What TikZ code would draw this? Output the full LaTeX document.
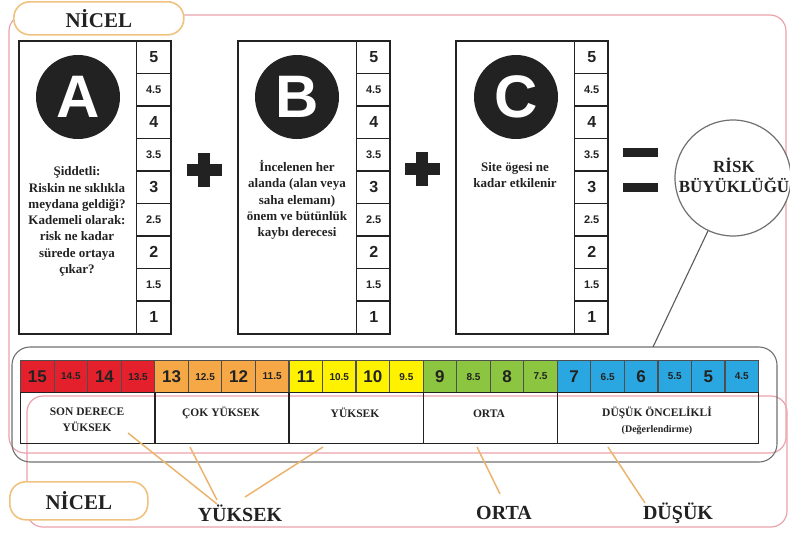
\documentclass[tikz,border=0pt]{standalone}
\usepackage{fontspec}
\setmainfont{Liberation Serif}
\newfontfamily\numfont{Liberation Sans}
\usetikzlibrary{calc}
\definecolor{pinkline}{HTML}{E9A3AB}
\definecolor{nicelor}{HTML}{EFC27F}
\definecolor{tanline}{HTML}{EBB46E}
\definecolor{cred}{HTML}{E3202B}
\definecolor{corange}{HTML}{F5A845}
\definecolor{cyellow}{HTML}{FFF200}
\definecolor{cgreen}{HTML}{8CC540}
\definecolor{cblue}{HTML}{2AA7E0}
\definecolor{inkc}{HTML}{222222}
\definecolor{grayline}{HTML}{707070}
\begin{document}
\begin{tikzpicture}[x=1pt,y=-1pt,
  pinkbox/.style={draw=pinkline, line width=1.2pt, rounded corners=16pt},
  nicelbox/.style={draw=nicelor, line width=1.6pt, fill=white, rounded corners=16pt, inner sep=0pt, anchor=north west, font=\bfseries\fontsize{21}{21}\selectfont, text=inkc},
  scorebox/.style={draw=inkc, line width=1.6pt, inner sep=0pt, anchor=north west, minimum width=152pt, minimum height=293pt},
  cellbox/.style={draw=inkc, line width=1.4pt, inner sep=0pt, anchor=north west, minimum width=34pt, minimum height=32.56pt, text=inkc},
  lettercirc/.style={circle, fill=inkc, minimum size=84pt, inner sep=0pt, text=white, font=\numfont\bfseries\fontsize{60}{60}\selectfont},
  desc/.style={align=center, text=inkc, font=\bfseries\fontsize{13}{16.3}\selectfont},
  signbar/.style={fill=inkc},
  barcell/.style={draw=inkc!80, line width=1.2pt, inner sep=0pt, anchor=north west, minimum width=33.545pt, minimum height=32pt, text=inkc},
  labelcell/.style={draw=inkc, line width=1.4pt, inner sep=0pt, anchor=north west, minimum height=51pt},
  labeltext/.style={align=center, text=inkc, font=\bfseries\fontsize{11.5}{16}\selectfont},
  tan/.style={draw=tanline, line width=1.5pt},
  biglabel/.style={font=\bfseries\fontsize{20}{20}\selectfont, text=inkc}
]
\useasboundingbox (0,0) rectangle (790,533);
% pink outlines and gray scale frame
\draw[pinkbox] (9,15) rectangle (786,453);
\draw[pinkbox] (27,396) rectangle (787,527);
\draw[draw=grayline, line width=1.1pt, rounded corners=18pt] (12,347) rectangle (777,462);
% NICEL labels
\node[nicelbox, minimum width=170pt, minimum height=33pt] (nicelTop) at (13,1) {N\.ICEL};
\node[nicelbox, minimum width=138pt, minimum height=38pt] (nicelBot) at (9,481) {N\.ICEL};
% score boxes
\node[scorebox] (boxA) at (18,40) {};
\node[scorebox] (boxB) at (237,40) {};
\node[scorebox] (boxC) at (455,40) {};
\foreach \bx/\nm in {136/A,356/B,574/C}{
  \foreach \v/\fs [count=\i from 0] in {5/16,4.5/11,4/16,3.5/11,3/16,2.5/11,2/16,1.5/11,1/16}{
    \node[cellbox, font=\numfont\bfseries\fontsize{\fs}{\fs}\selectfont] (\nm\i) at (\bx,40+32.56*\i) {\v};
  }
}
\node[lettercirc] (cA) at (78,97) {A};
\node[lettercirc] (cB) at (297,97) {B};
\node[lettercirc] (cC) at (516,97) {C};
\node[desc] (tA) at (77,221.5) {Şiddetli:\\Riskin ne sıklıkla\\meydana geldiği?\\Kademeli olarak:\\risk ne kadar\\sürede ortaya\\çıkar?};
\node[desc] (tB) at (297,200) {İncelenen her\\alanda (alan veya\\saha elemanı)\\önem ve bütünlük\\kaybı derecesi};
\node[desc] (tC) at (515,175) {Site ögesi ne\\kadar etkilenir};
% plus and equals signs
\node[inner sep=0pt, minimum width=35pt, minimum height=34pt] (plus1) at (204,170) {};
\fill[signbar] ($(plus1.center)+(-17.5,-6)$) rectangle ($(plus1.center)+(17.5,6)$);
\fill[signbar] ($(plus1.center)+(-6,-17)$) rectangle ($(plus1.center)+(6,17)$);
\node[inner sep=0pt, minimum width=35pt, minimum height=34pt] (plus2) at (422,169) {};
\fill[signbar] ($(plus2.center)+(-17.5,-6)$) rectangle ($(plus2.center)+(17.5,6)$);
\fill[signbar] ($(plus2.center)+(-6,-17)$) rectangle ($(plus2.center)+(6,17)$);
\node[inner sep=0pt, minimum width=35pt, minimum height=43pt] (equals) at (640.5,170) {};
\fill[signbar] (equals.north west) rectangle ($(equals.north east)+(0,9)$);
\fill[signbar] ($(equals.south west)+(0,-9)$) rectangle (equals.south east);
% risk circle
\node[circle, draw=grayline, line width=1.2pt, fill=white, minimum size=116pt, inner sep=0pt] (risk) at (733,178) {};
\node[align=center, text=inkc, font=\bfseries\fontsize{17}{20}\selectfont] (riskT) at (734,175) {R\.ISK\\BÜYÜKLÜĞÜ};
\coordinate (scaleTop) at (653,347);
\draw[draw=grayline!80!black, line width=1.1pt] (risk) -- (scaleTop);
% colour bar
\foreach \v/\fs/\c [count=\i from 0] in {15/17/cred,14.5/10/cred,14/17/cred,13.5/10/cred,
  13/17/corange,12.5/10/corange,12/17/corange,11.5/10/corange,
  11/17/cyellow,10.5/10/cyellow,10/17/cyellow,9.5/10/cyellow,
  9/17/cgreen,8.5/10/cgreen,8/17/cgreen,7.5/10/cgreen,
  7/17/cblue,6.5/10/cblue,6/17/cblue,5.5/10/cblue,5/17/cblue,4.5/10/cblue}{
  \node[barcell, fill=\c, font=\numfont\bfseries\fontsize{\fs}{\fs}\selectfont] (bar\i) at (20+33.545*\i,360) {\v};
}
% label row
\node[labelcell, minimum width=134.2pt] (lSon) at (20,392) {};
\node[labelcell, minimum width=134.2pt] (lCok) at (154.2,392) {};
\node[labelcell, minimum width=134.2pt] (lYuk) at (288.4,392) {};
\node[labelcell, minimum width=134.2pt] (lOrta) at (422.5,392) {};
\node[labelcell, minimum width=201.3pt] (lDus) at (556.7,392) {};
\node[labeltext] (tSon) at (87,420) {SON DERECE\\YÜKSEK};
\node[labeltext] (tCok) at (221,413) {ÇOK YÜKSEK};
\node[labeltext] (tYuk) at (355,413) {YÜKSEK};
\node[labeltext] (tOrta) at (489,414) {ORTA};
\node[labeltext] (tDus) at (657,421) {DÜŞÜK ÖNCEL\.IKL\.I\\{\fontsize{10}{12}\selectfont(Değerlendirme)}};
% bottom labels
\node[biglabel] (bYuk) at (240,513) {YÜKSEK};
\node[biglabel] (bOrta) at (504,513) {ORTA};
\node[biglabel] (bDus) at (678,513) {DÜŞÜK};
% tan connectors
\coordinate (sSon) at (128,433);
\coordinate (sCok) at (190,447);
\coordinate (sYuk) at (323,447);
\coordinate (sOrta) at (477,447);
\coordinate (sDus) at (608,447);
\coordinate (eY1) at (217,504);
\coordinate (eY2) at (217,500);
\coordinate (eY3) at (245,497);
\coordinate (eO) at (500,494);
\coordinate (eD) at (645,503);
\draw[tan] (sSon) -- (eY1);
\draw[tan] (sCok) -- (eY2);
\draw[tan] (sYuk) -- (eY3);
\draw[tan] (sOrta) -- (eO);
\draw[tan] (sDus) -- (eD);
\end{tikzpicture}
\end{document}
